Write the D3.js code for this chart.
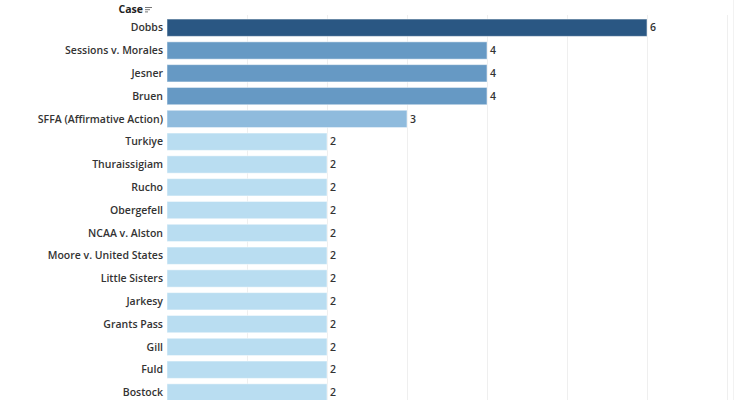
<!DOCTYPE html>
<html>
<head>
<meta charset="utf-8">
<script src="https://cdn.jsdelivr.net/npm/d3@7"></script>
<style>
  body { margin: 0; background: #fff; }
  svg { display: block; font-family: "Open Sans", Lato, sans-serif; }
</style>
</head>
<body>
<div id="chart"></div>
<script>
// case names, top to bottom
const cases = [
    "Dobbs", "Sessions v. Morales", "Jesner", "Bruen", "SFFA (Affirmative Action)",
    "Turkiye", "Thuraissigiam", "Rucho", "Obergefell", "NCAA v. Alston",
    "Moore v. United States", "Little Sisters", "Jarkesy", "Grants Pass", "Gill",
    "Fuld", "Bostock"
];
const counts = [6, 4, 4, 4, 3, 2, 2, 2, 2, 2, 2, 2, 2, 2, 2, 2, 2];
const gridTicks = [1, 2, 3, 4, 5, 6, 7];

const data = cases.map((c, i) => ({ name: c, value: counts[i] }));

const dimensions = {
    width: 735,
    height: 400,
    margin: { top: 16.3, left: 167, right: 0 },
    step: 22.8
};

const svg = d3.select("#chart").append("svg")
    .attr("width", dimensions.width)
    .attr("height", dimensions.height);

const xScale = d3.scaleLinear()
    .domain([0, 7])
    .range([dimensions.margin.left, 727]);

const yScale = d3.scaleBand()
    .domain(cases)
    .range([dimensions.margin.top, dimensions.margin.top + cases.length * dimensions.step])
    .paddingInner(0.24)
    .paddingOuter(0.12);

// blue sequential, as in the original
const colorScale = d3.scaleLinear()
    .domain([2, 3, 4, 6])
    .range(["#b9ddf1", "#8fbbdd", "#6699c4", "#2a5783"]);

// gridlines
svg.append("g")
    .selectAll("line")
    .data(gridTicks)
    .enter().append("line")
    .attr("x1", d => Math.round(xScale(d)) + 0.5)
    .attr("x2", d => Math.round(xScale(d)) + 0.5)
    .attr("y1", 15)
    .attr("y2", dimensions.height)
    .attr("stroke", "#efefef")
    .attr("stroke-width", 1);

svg.append("line")
    .attr("x1", 733.5).attr("x2", 733.5)
    .attr("y1", 0).attr("y2", dimensions.height)
    .attr("stroke", "#f2f2f2");

// bars
svg.append("g")
    .selectAll("rect")
    .data(data)
    .enter().append("rect")
    .attr("x", xScale(0))
    .attr("y", d => yScale(d.name))
    .attr("width", d => xScale(d.value) - xScale(0))
    .attr("height", yScale.bandwidth())
    .attr("fill", d => colorScale(d.value))
    .attr("stroke", "#ffffff")
    .attr("stroke-opacity", 0.5)
    .attr("stroke-width", 1);

// value labels
svg.append("g")
    .selectAll("text")
    .data(data)
    .enter().append("text")
    .attr("x", d => xScale(d.value) + 3)
    .attr("y", d => yScale(d.name) + yScale.bandwidth() / 2)
    .attr("dy", "0.35em")
    .style("font-size", "10.5px")
    .style("font-weight", 600)
    .attr("fill", "#333")
    .text(d => d.value);

// case labels
svg.append("g")
    .selectAll("text")
    .data(data)
    .enter().append("text")
    .attr("x", 163)
    .attr("y", d => yScale(d.name) + yScale.bandwidth() / 2)
    .attr("dy", "0.35em")
    .attr("text-anchor", "end")
    .style("font-size", "10.5px")
    .style("font-weight", 600)
    .attr("fill", "#333")
    .text(d => d.name);

// header
svg.append("text")
    .attr("x", 143)
    .attr("y", 9)
    .attr("dy", "0.35em")
    .attr("text-anchor", "end")
    .style("font-size", "10.5px")
    .style("font-weight", 700)
    .attr("fill", "#222")
    .text("Case");

// sort icon
const icon = svg.append("g").attr("transform", "translate(145,7)");
[7, 5, 3].forEach((w, i) => {
    icon.append("line")
        .attr("x1", 0).attr("x2", w)
        .attr("y1", i * 2.2 + 0.5).attr("y2", i * 2.2 + 0.5)
        .attr("stroke", "#777").attr("stroke-width", 1);
});
</script>
</body>
</html>
